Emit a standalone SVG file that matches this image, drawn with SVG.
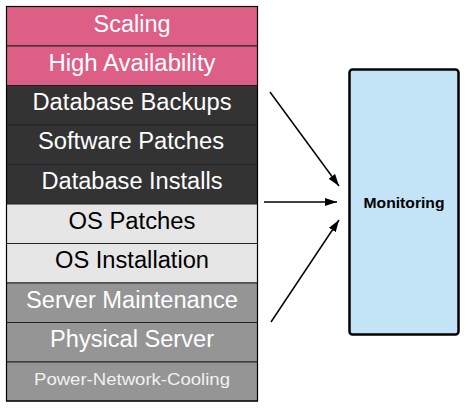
<svg xmlns="http://www.w3.org/2000/svg" width="468" height="408" viewBox="0 0 468 408">
<style>
.row{stroke:#222;stroke-width:1}
.t{font-family:"Liberation Sans",Arial,sans-serif;font-size:23px;text-anchor:middle}
.w{fill:#fff}
.b{fill:#000}
.c{stroke:#000;stroke-width:1.5;fill:none;marker-end:url(#ah)}
</style>
<defs>
<marker id="ah" viewBox="0 0 12 8" refX="12" refY="4" markerWidth="12" markerHeight="8" markerUnits="userSpaceOnUse" orient="auto">
<path d="M0,0 L12,4 L0,8 z" fill="#000"/>
</marker>
</defs>
<rect x="0" y="0" width="468" height="408" fill="#fff"/>
<g id="scaling"><rect class="row" x="6.5" y="6.5" width="251" height="39.5" fill="#DE5F85"/><text class="t w" x="132" y="31.5" textLength="77" lengthAdjust="spacingAndGlyphs">Scaling</text></g>
<g id="high-availability"><rect class="row" x="6.5" y="46" width="251" height="39.5" fill="#DE5F85"/><text class="t w" x="132" y="70.5" textLength="167" lengthAdjust="spacingAndGlyphs">High Availability</text></g>
<g id="database-backups"><rect class="row" x="6.5" y="85.5" width="251" height="39.5" fill="#333333"/><text class="t w" x="132" y="110" textLength="199" lengthAdjust="spacingAndGlyphs">Database Backups</text></g>
<g id="software-patches"><rect class="row" x="6.5" y="125" width="251" height="39.5" fill="#333333"/><text class="t w" x="131" y="148.5" textLength="186" lengthAdjust="spacingAndGlyphs">Software Patches</text></g>
<g id="database-installs"><rect class="row" x="6.5" y="164.5" width="251" height="39.5" fill="#333333"/><text class="t w" x="132" y="188.5" textLength="181" lengthAdjust="spacingAndGlyphs">Database Installs</text></g>
<g id="os-patches"><rect class="row" x="6.5" y="204" width="251" height="39.5" fill="#E6E6E6"/><text class="t b" x="132" y="228.5" textLength="127" lengthAdjust="spacingAndGlyphs">OS Patches</text></g>
<g id="os-installation"><rect class="row" x="6.5" y="243.5" width="251" height="39.5" fill="#E6E6E6"/><text class="t b" x="132" y="268" textLength="154" lengthAdjust="spacingAndGlyphs">OS Installation</text></g>
<g id="server-maintenance"><rect class="row" x="6.5" y="283" width="251" height="39.5" fill="#959595"/><text class="t w" x="132" y="307.5" textLength="212" lengthAdjust="spacingAndGlyphs">Server Maintenance</text></g>
<g id="physical-server"><rect class="row" x="6.5" y="322.5" width="251" height="39.5" fill="#959595"/><text class="t w" x="132" y="347" textLength="164" lengthAdjust="spacingAndGlyphs">Physical Server</text></g>
<g id="power-network-cooling"><rect class="row" x="6.5" y="362" width="251" height="39" fill="#959595"/><text class="t" x="132" y="384.5" style="font-size:16.5px;fill:#f2f2f2" textLength="196" lengthAdjust="spacingAndGlyphs">Power-Network-Cooling</text></g>
<rect x="6.5" y="6.5" width="251" height="394.5" fill="none" stroke="#000" stroke-width="1.2"/>
<g id="monitoring"><rect x="349.5" y="69.5" width="109" height="265" rx="3" fill="#C3E4F6" stroke="#000" stroke-width="2.5"/><text x="404" y="207.5" style="font-family:'Liberation Sans',Arial,sans-serif;font-size:15px;font-weight:bold;text-anchor:middle" textLength="81" lengthAdjust="spacingAndGlyphs">Monitoring</text></g>
<g id="connectors">
<line class="c" x1="270" y1="92" x2="339" y2="186"/>
<line class="c" x1="264" y1="202" x2="337" y2="202"/>
<line class="c" x1="271" y1="322" x2="339" y2="220"/>
</g>
</svg>
